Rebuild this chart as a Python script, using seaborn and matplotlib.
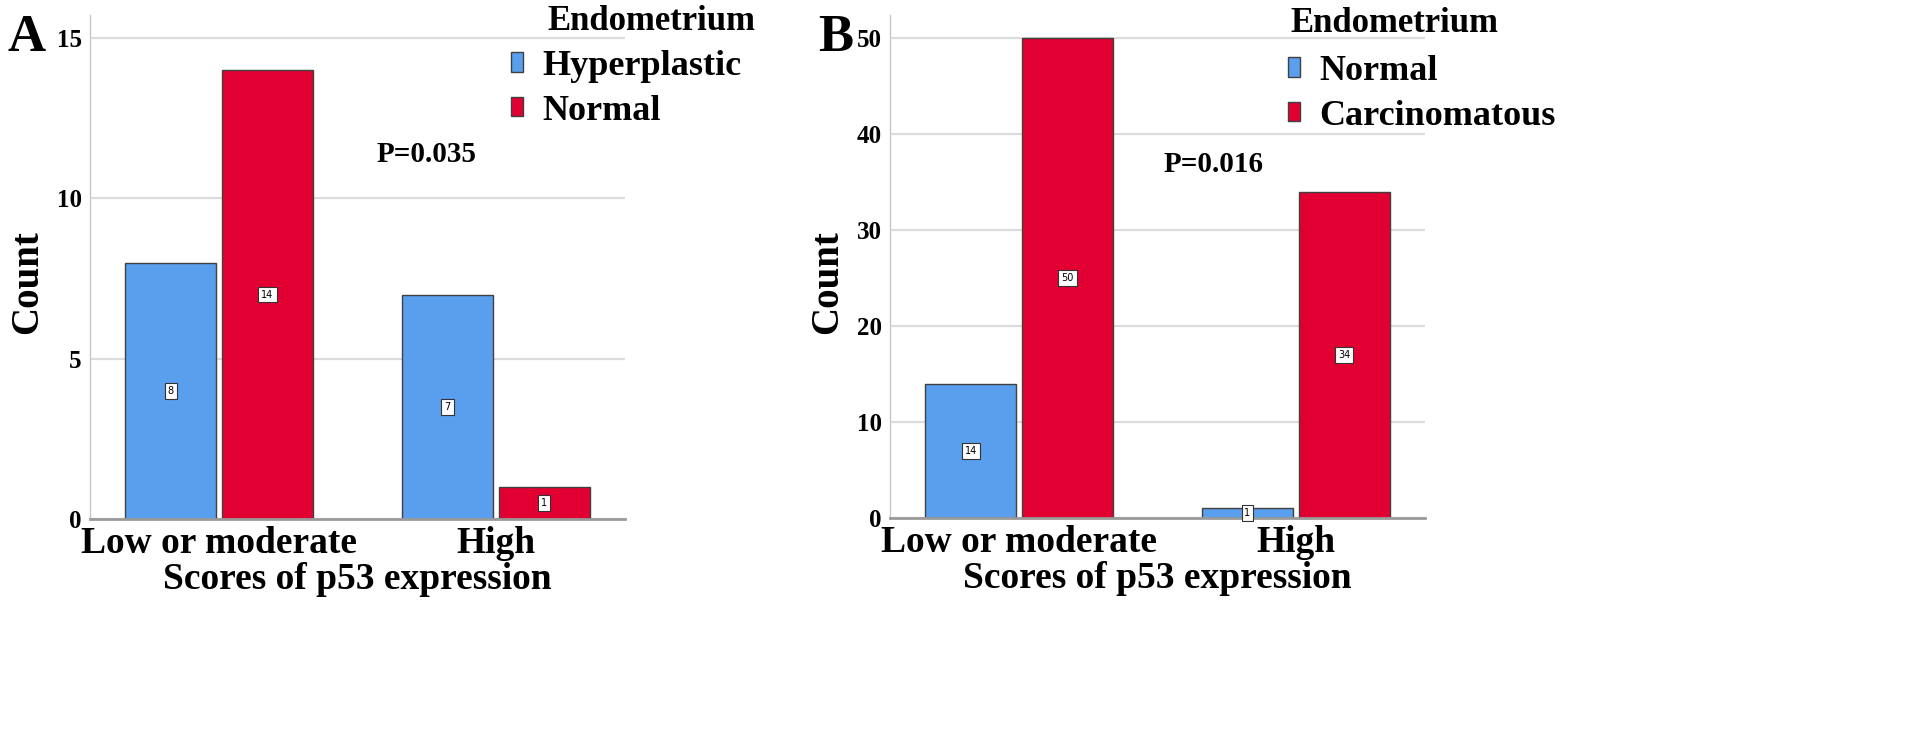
import matplotlib
matplotlib.use("Agg")
import matplotlib.pyplot as plt
import seaborn as sns
import pandas as pd

# ---- data ----
scores = ["Low or moderate", "High"]
groups_a = ["Hyperplastic", "Normal"]
counts_a_hyper = [8, 7]
counts_a_normal = [14, 1]
groups_b = ["Normal", "Carcinomatous"]
counts_b_normal = [14, 1]
counts_b_carc = [50, 34]
p_a = "P=0.035"
p_b = "P=0.016"
legend_title = "Endometrium"
xlabel = "Scores of p53 expression"
ylabel = "Count"

BLUE = "#5A9EEE"
RED = "#E10031"

sns.set_theme(style="white")
plt.rcParams["font.family"] = ["Liberation Serif", "DejaVu Serif"]
plt.rcParams["font.weight"] = "bold"
plt.rcParams["text.color"] = "black"
plt.rcParams["axes.labelcolor"] = "black"
plt.rcParams["xtick.color"] = "black"
plt.rcParams["ytick.color"] = "black"

W, H = 1913, 739
fig = plt.figure(figsize=(W / 100, H / 100), dpi=100)


def px_ax(l, t, r, b):
    return fig.add_axes([l / W, 1 - b / H, (r - l) / W, (b - t) / H])


def make_df(groups, v1, v2):
    rows = []
    for s, a in zip(scores, v1):
        rows.append({"score": s, "group": groups[0], "count": a})
    for s, a in zip(scores, v2):
        rows.append({"score": s, "group": groups[1], "count": a})
    return pd.DataFrame(rows)


def draw(ax, df, groups, ymax, yticks, ylab_x, pt, ptx, pty, letter, letx,
         leg_x, leg_y, title_x, title_y):
    sns.barplot(data=df, x="score", y="count", hue="group", hue_order=groups,
                order=scores, palette=[BLUE, RED], width=0.7, gap=0.06,
                edgecolor="#404040", linewidth=1.0, ax=ax, legend=True,
                errorbar=None, saturation=1)
    handles, labels = ax.get_legend_handles_labels()
    ax.get_legend().remove()
    ax.set_xlim(-0.466, 1.466)
    ax.set_ylim(0, ymax)
    ax.set_yticks(yticks)
    ax.set_yticklabels([str(t) for t in yticks], fontsize=18, fontweight="bold")
    ax.set_xticks(range(len(scores)))
    ax.set_xticklabels(scores, fontsize=27, fontweight="bold")
    ax.tick_params(axis="both", length=0, pad=6, colors="black")
    ax.tick_params(axis="x", pad=5)
    ax.grid(axis="y", color="#dcdcdc", lw=1.6)
    ax.grid(axis="x", visible=False)
    ax.set_axisbelow(True)
    for s in ["top", "right"]:
        ax.spines[s].set_visible(False)
    ax.spines["left"].set_color("#c8c8c8")
    ax.spines["left"].set_linewidth(1.0)
    ax.spines["bottom"].set_color("#9a9a9a")
    ax.spines["bottom"].set_linewidth(2.0)
    ax.set_xlabel(xlabel, fontsize=27, fontweight="bold", labelpad=1)
    ax.set_ylabel(ylabel, fontsize=28, fontweight="bold")
    ax.yaxis.set_label_coords(ylab_x / W, 1 - 282 / H, transform=fig.transFigure)
    for c in ax.containers:
        ax.bar_label(c, label_type="center", fmt="%d", fontsize=7,
                     fontweight="normal", family="DejaVu Sans",
                     bbox=dict(boxstyle="square,pad=0.3", fc="white",
                               ec="#333333", lw=0.8))
    fig.text(ptx / W, 1 - pty / H, pt, fontsize=21, fontweight="bold",
             ha="left", va="center")
    fig.text(letx / W, 1 - 14 / H, letter, fontsize=38, fontweight="bold",
             ha="left", va="top")
    fig.text(title_x / W, 1 - title_y / H, legend_title, fontsize=25,
             fontweight="bold", ha="left", va="center")
    ax.legend(handles, labels, loc="upper left",
              bbox_to_anchor=(leg_x / W, 1 - leg_y / H),
              bbox_transform=fig.transFigure, frameon=False,
              prop={"size": 26, "weight": "bold"}, handlelength=0.32,
              handleheight=0.45, handletextpad=0.55, labelspacing=0.32,
              borderpad=0, borderaxespad=0)


ax1 = px_ax(90, 15, 625, 519)
draw(ax1, make_df(groups_a, counts_a_hyper, counts_a_normal), groups_a,
     15.72, [0, 5, 10, 15], 46, p_a, 377, 155, "A", 8, 511, 50, 547, 22)

ax2 = px_ax(890, 15, 1425, 518)
draw(ax2, make_df(groups_b, counts_b_normal, counts_b_carc), groups_b,
     52.4, [0, 10, 20, 30, 40, 50], 846, p_b, 1164, 165, "B", 818, 1288, 55,
     1290, 24)

fig.savefig("out.png", dpi=100)
